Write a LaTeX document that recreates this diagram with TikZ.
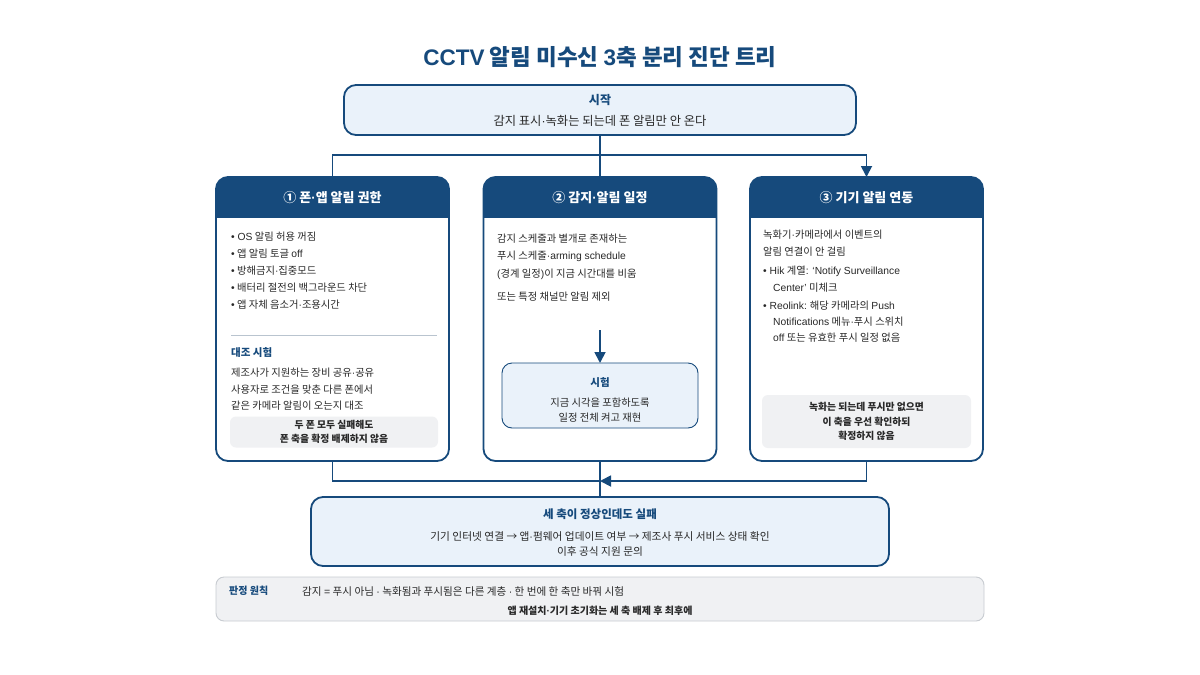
\documentclass[tikz,border=0pt]{standalone}
\usepackage{fontspec}
\setmainfont{Noto Sans CJK KR}
\newfontfamily\latfont{Liberation Sans}
\newcommand{\lat}[1]{{\latfont #1}}
\newcommand{\md}{{\latfont ·}}
\usetikzlibrary{arrows.meta}
\definecolor{navy}{RGB}{22,74,124}
\definecolor{lightblue}{RGB}{234,242,250}
\definecolor{graybg}{RGB}{240,241,243}
\definecolor{grayline}{RGB}{200,204,209}
\definecolor{sepline}{RGB}{185,196,207}
\definecolor{bodytext}{RGB}{40,40,40}
\begin{document}
\begin{tikzpicture}[x=1pt,y=-1pt,
  bluebox/.style={draw=navy, line width=1.8pt, fill=lightblue, rounded corners=12pt, inner sep=0pt, outer sep=0pt},
  colbox/.style={draw=navy, line width=1.8pt, fill=white, rounded corners=12pt, inner sep=0pt, outer sep=0pt, minimum width=233pt, minimum height=284pt},
  testbox/.style={draw=navy, line width=0.9pt, fill=lightblue, rounded corners=10pt, inner sep=0pt, outer sep=0pt},
  graybox/.style={fill=graybg, rounded corners=6pt, inner sep=0pt, outer sep=0pt, align=center, text=bodytext, font=\fontsize{9.8}{14}\selectfont\bfseries},
  hdrtext/.style={text=white, font=\fontsize{13}{15}\selectfont\bfseries, inner sep=0pt},
  body/.style={anchor=west, text=bodytext, font=\fontsize{10.3}{12}\selectfont, inner sep=0pt},
  bodyc/.style={text=bodytext, font=\fontsize{10.3}{12}\selectfont, inner sep=0pt},
  subttl/.style={text=navy, font=\fontsize{10.5}{12}\selectfont\bfseries, inner sep=0pt},
  conn/.style={draw=navy, line width=1.8pt},
  tip/.style={-{Triangle[length=11pt,width=11pt]}}
]
\useasboundingbox[fill=white] (0,0) rectangle (1200,675);

% title
\node[text=navy, font=\fontsize{22.5}{26}\selectfont\bfseries, inner sep=0pt] (title) at (600,57) {\lat{CCTV} 알림 미수신 \lat{3}축 분리 진단 트리};

% start
\node[bluebox, minimum width=512pt, minimum height=50pt] (start) at (600,110) {};
\node[text=navy, font=\fontsize{12}{14}\selectfont\bfseries, inner sep=0pt] (startttl) at (600,100) {시작};
\node[bodyc, font=\fontsize{12.3}{14}\selectfont] (startsub) at (600,121) {감지 표시\md 녹화는 되는데 폰 알림만 안 온다};

% columns
\node[colbox] (c1) at (332.5,319) {};
\node[colbox] (c2) at (600,319) {};
\node[colbox] (c3) at (866.5,319) {};
\foreach \c in {c1,c2,c3}{
  \begin{scope}
    \clip[rounded corners=12pt] (\c.north west) rectangle (\c.south east);
    \fill[navy] (\c.north west) rectangle ([yshift=-41pt]\c.north east);
  \end{scope}
}
\node[hdrtext] (h1) at (332.5,198) {① 폰\md 앱 알림 권한};
\node[hdrtext] (h2) at (600,198) {② 감지\md 알림 일정};
\node[hdrtext] (h3) at (866.5,198) {③ 기기 알림 연동};

% column 1
\node[body] (b11) at (231,237) {\lat{• OS} 알림 허용 꺼짐};
\node[body] (b12) at (231,254) {\lat{•} 앱 알림 토글 \lat{off}};
\node[body] (b13) at (231,271) {\lat{•} 방해금지\md 집중모드};
\node[body] (b14) at (231,288) {\lat{•} 배터리 절전의 백그라운드 차단};
\node[body] (b15) at (231,305) {\lat{•} 앱 자체 음소거\md 조용시간};
\coordinate (s1a) at (231,335);
\coordinate (s1b) at (437,335);
\draw[sepline, line width=0.8pt] (s1a) -- (s1b);
\node[subttl, anchor=west] (t1) at (231,353) {대조 시험};
\node[body] (b16) at (231,373) {제조사가 지원하는 장비 공유\md 공유};
\node[body] (b17) at (231,390) {사용자로 조건을 맞춘 다른 폰에서};
\node[body] (b18) at (231,406) {같은 카메라 알림이 오는지 대조};
\node[graybox, minimum width=208pt, minimum height=31pt] (g1) at (334,432) {두 폰 모두 실패해도\\폰 축을 확정 배제하지 않음};

% column 2
\node[body] (b21) at (497,239) {감지 스케줄과 별개로 존재하는};
\node[body] (b22) at (497,256) {푸시 스케줄\md\lat{arming schedule}};
\node[body] (b23) at (497,274) {\lat{(}경계 일정\lat{)}이 지금 시간대를 비움};
\node[body] (b24) at (497,297) {또는 특정 채널만 알림 제외};
\node[testbox, minimum width=196pt, minimum height=65pt] (test) at (600,395.5) {};
\node[subttl] (testttl) at (600,383) {시험};
\node[bodyc] (tl1) at (600,403) {지금 시각을 포함하도록};
\node[bodyc] (tl2) at (600,418) {일정 전체 켜고 재현};
\coordinate (a2) at (600,330);
\draw[conn, tip] (a2) -- (test.north);

% column 3
\node[body] (b31) at (763,235) {녹화기\md 카메라에서 이벤트의};
\node[body] (b32) at (763,252) {알림 연결이 안 걸림};
\node[body] (b33) at (763,271) {\lat{• Hik} 계열\lat{: ‘Notify Surveillance}};
\node[body] (b34) at (773,288) {\lat{Center’} 미체크};
\node[body] (b35) at (763,306) {\lat{• Reolink:} 해당 카메라의 \lat{Push}};
\node[body] (b36) at (773,322) {\lat{Notifications} 메뉴\md 푸시 스위치};
\node[body] (b37) at (773,338) {\lat{off} 또는 유효한 푸시 일정 없음};
\node[graybox, minimum width=209pt, minimum height=53pt, font=\fontsize{9.8}{14.5}\selectfont\bfseries] (g3) at (866.5,421.5) {녹화는 되는데 푸시만 없으면\\이 축을 우선 확인하되\\확정하지 않음};

% bottom box
\node[bluebox, minimum width=578pt, minimum height=69pt] (bottom) at (600,531.5) {};
\node[text=navy, font=\fontsize{11.5}{13}\selectfont\bfseries, inner sep=0pt] (botttl) at (600,514) {세 축이 정상인데도 실패};
\node[bodyc, font=\fontsize{10.7}{12}\selectfont] (bot1) at (600,536) {기기 인터넷 연결 → 앱\md 펌웨어 업데이트 여부 → 제조사 푸시 서비스 상태 확인};
\node[bodyc, font=\fontsize{10.7}{12}\selectfont] (bot2) at (600,551) {이후 공식 지원 문의};

% principle box
\node[draw=grayline, line width=0.9pt, fill=graybg, rounded corners=8pt, minimum width=768pt, minimum height=44pt, inner sep=0pt] (rule) at (600,599) {};
\node[subttl, anchor=west, font=\fontsize{10}{12}\selectfont\bfseries] (rulettl) at (229,591) {판정 원칙};
\node[body, font=\fontsize{10.6}{12}\selectfont] (rule1) at (302,591) {감지 \lat{=} 푸시 아님 \md\ 녹화됨과 푸시됨은 다른 계층 \md\ 한 번에 한 축만 바꿔 시험};
\node[bodyc, font=\fontsize{10}{12}\selectfont\bfseries] (rule2) at (600,611) {앱 재설치\md 기기 초기화는 세 축 배제 후 최후에};

% connectors top
\coordinate (split) at (600,155);
\draw[conn] (start.south) -- (split);
\draw[conn] (split) -| (c1.north);
\draw[conn] (split) -- (c2.north);
\draw[conn, tip] (split) -| (c3.north);

% connectors bottom
\coordinate (merge) at (600,481);
\draw[conn] (c1.south) |- (merge);
\draw[conn, tip] (c3.south) |- (merge);
\draw[conn] (c2.south) -- (bottom.north);
\end{tikzpicture}
\end{document}
